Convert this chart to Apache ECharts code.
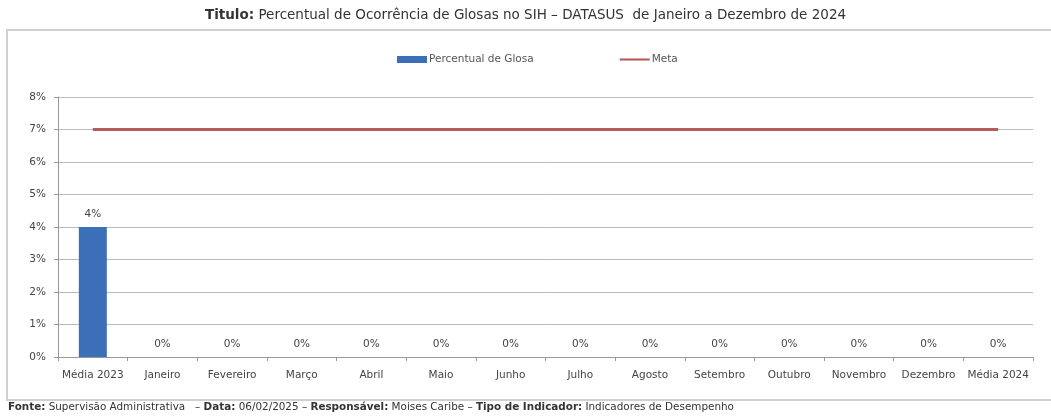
<!DOCTYPE html>
<html>
<head>
<meta charset="utf-8">
<script src="https://cdn.jsdelivr.net/npm/echarts@6/dist/echarts.min.js"></script>
<style>
  html, body { margin: 0; padding: 0; background: #fff; }
  #chart { width: 1051px; height: 417px; }
</style>
</head>
<body>
<div id="chart"></div>
<script>
const categories = ['Média 2023', 'Janeiro', 'Fevereiro', 'Março', 'Abril', 'Maio', 'Junho',
  'Julho', 'Agosto', 'Setembro', 'Outubro', 'Novembro', 'Dezembro', 'Média 2024'];
const glosa = [4, 0, 0, 0, 0, 0, 0, 0, 0, 0, 0, 0, 0, 0];
const meta = [7, 7, 7, 7, 7, 7, 7, 7, 7, 7, 7, 7, 7, 7];
const yTicks = [0, 1, 2, 3, 4, 5, 6, 7, 8];

const myChart = echarts.init(document.getElementById('chart'), null, { renderer: 'canvas' });
const labelFont = 'DejaVu Sans, sans-serif';

let option = {
  animation: false,
  textStyle: { fontFamily: labelFont },
  legend: {
    top: 49,
    left: 392,
    itemGap: 86,
    itemWidth: 30,
    itemHeight: 7,
    textStyle: { fontSize: 10.5, color: '#555', fontFamily: labelFont, padding: [0, 0, 0, -3] },
    data: [
      { name: 'Percentual de Glosa', icon: 'rect' },
      { name: 'Meta', icon: 'path://M0,0 L28,0 L28,2 L0,2 Z' }
    ]
  },
  grid: {
    left: 58,
    right: 18,
    top: 97,
    bottom: 60,
    containLabel: false
  },
  xAxis: {
    type: 'category',
    data: categories,
    axisLine: { lineStyle: { color: '#999', width: 1 } },
    axisTick: { show: true, length: 4, lineStyle: { color: '#999' } },
    axisLabel: { fontSize: 10.5, color: '#444', margin: 13, interval: 0 }
  },
  yAxis: {
    type: 'value',
    min: yTicks[0],
    max: yTicks[yTicks.length - 1],
    interval: 1,
    axisLine: { show: true, lineStyle: { color: '#999' } },
    axisTick: { show: true, length: 4, lineStyle: { color: '#999' } },
    axisLabel: { fontSize: 10.5, color: '#444', margin: 12, formatter: v => v + '%' },
    splitLine: { lineStyle: { color: '#bbb', width: 1 } }
  },
  series: [
    {
      name: 'Percentual de Glosa',
      type: 'bar',
      data: glosa,
      barWidth: 28,
      itemStyle: { color: '#3b70b9' },
      label: {
        show: true,
        position: 'top',
        distance: 7,
        fontSize: 10.5,
        color: '#444',
        formatter: p => p.value + '%'
      }
    },
    {
      name: 'Meta',
      type: 'line',
      data: meta,
      symbol: 'none',
      lineStyle: { color: '#b75c5e', width: 3 },
      itemStyle: { color: '#b75c5e' }
    }
  ],
  graphic: [
    {
      type: 'polyline',
      shape: { points: [[1060, 30], [7, 30], [7, 400], [1060, 400]] },
      style: { stroke: '#d0d0d0', lineWidth: 2, fill: null },
      silent: true
    },
    {
      type: 'text',
      left: 'center',
      top: 8,
      style: {
        text: '{b|Titulo:} Percentual de Ocorrência de Glosas no SIH – DATASUS  de Janeiro a Dezembro de 2024',
        font: '13.5px DejaVu Sans, sans-serif',
        fill: '#333',
        rich: {
          b: { fontWeight: 'bold', fontSize: 13.5, fill: '#333', fontFamily: labelFont }
        }
      }
    },
    {
      type: 'text',
      left: 8,
      top: 402,
      style: {
        text: '{b|Fonte:} Supervisão Administrativa   – {b|Data:} 06/02/2025 – {b|Responsável:} Moises Caribe – {b|Tipo de Indicador:} Indicadores de Desempenho',
        font: '10.4px DejaVu Sans, sans-serif',
        fill: '#333',
        rich: {
          b: { fontWeight: 'bold', fontSize: 10.4, fill: '#333', fontFamily: labelFont }
        }
      }
    }
  ]
};
myChart.setOption(option);
</script>
</body>
</html>
